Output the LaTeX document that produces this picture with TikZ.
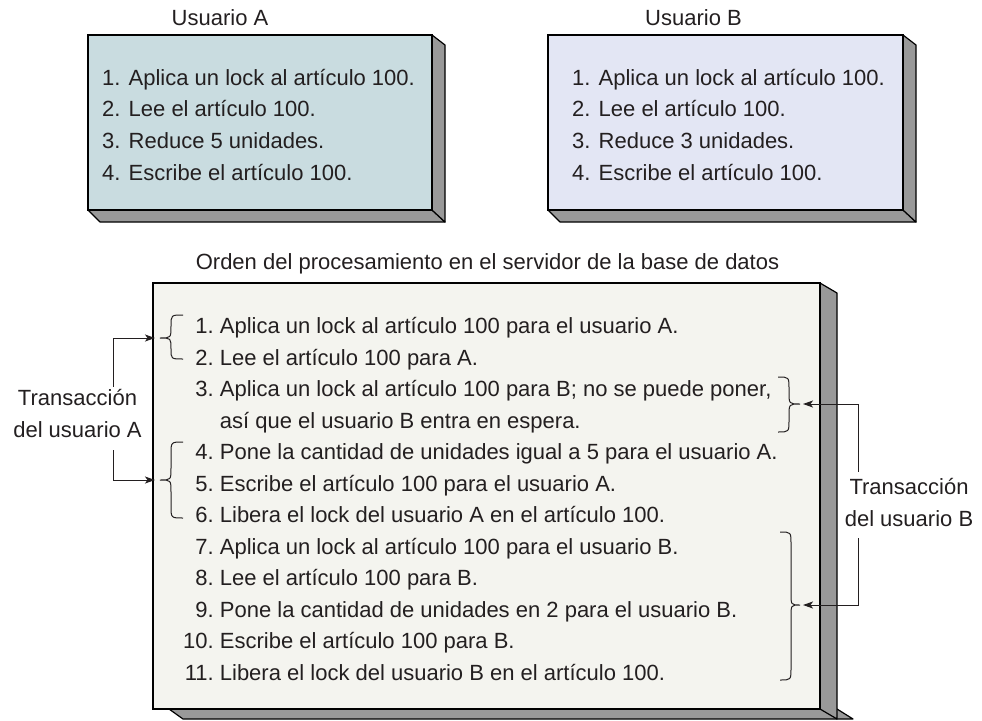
\documentclass[tikz,border=0pt]{standalone}
\usepackage{fontspec}
\setmainfont{Liberation Sans}
\usetikzlibrary{arrows.meta,calc}
\definecolor{fillA}{HTML}{C9DCE0}
\definecolor{fillB}{HTML}{E3E6F4}
\definecolor{fillM}{HTML}{F4F4EF}
\definecolor{shade}{HTML}{999999}
\definecolor{ink}{HTML}{231F20}
\newcommand{\nb}[1]{\makebox[30.6pt][r]{#1}}
\begin{document}
\begin{tikzpicture}[x=1pt,y=-1pt,
 face/.style={draw=black,line width=1.3pt,inner sep=0pt,outer sep=0pt,anchor=north west},
 side/.style={fill=shade,draw=black,line width=1.2pt,line join=round},
 txt/.style={font=\fontsize{22}{31.5}\selectfont,text=ink,inner sep=0pt,anchor=base west},
 ttl/.style={font=\fontsize{22}{26}\selectfont,text=ink,inner sep=0pt,anchor=base},
 lbl/.style={font=\fontsize{22}{31.5}\selectfont,text=ink,align=center,inner sep=0pt},
 brc/.style={draw=ink,line width=1pt},
 arr/.style={draw=ink,line width=1pt,-{Stealth[length=10pt,width=7pt,inset=2.5pt]}}
]
\useasboundingbox (0,0) rectangle (982,720);

% ---- Box A ----
\node[ttl] (titA) at (220,25) {Usuario A};
\filldraw[side] (88,210) -- (100,222) -- (445,222) -- (432,210) -- cycle;
\filldraw[side] (432,35) -- (445,45) -- (445,222) -- (432,210) -- cycle;
\node[face,fill=fillA,minimum width=344pt,minimum height=175pt] (boxA) at (88,35) {};
\node[txt] (a1) at (102,85) {1. Aplica un lock al artículo 100.};
\node[txt] (a2) at (102,116.7) {2. Lee el artículo 100.};
\node[txt] (a3) at (102,148.4) {3. Reduce 5 unidades.};
\node[txt] (a4) at (102,180) {4. Escribe el artículo 100.};

% ---- Box B ----
\node[ttl] (titB) at (693.5,25) {Usuario B};
\filldraw[side] (548,210) -- (560,222) -- (916,222) -- (903,210) -- cycle;
\filldraw[side] (903,35) -- (916,45) -- (916,222) -- (903,210) -- cycle;
\node[face,fill=fillB,minimum width=355pt,minimum height=175pt] (boxB) at (548,35) {};
\node[txt] (b1) at (572,85) {1. Aplica un lock al artículo 100.};
\node[txt] (b2) at (572,116.7) {2. Lee el artículo 100.};
\node[txt] (b3) at (572,148.4) {3. Reduce 3 unidades.};
\node[txt] (b4) at (572,180) {4. Escribe el artículo 100.};

% ---- Main box ----
\node[ttl] (titM) at (487.5,269) {Orden del procesamiento en el servidor de la base de datos};
\filldraw[side] (169,709) -- (183,719) -- (853,719) -- (837,709) -- cycle;
\filldraw[side] (820,283) -- (837,293) -- (837,719) -- (820,709) -- cycle;
\node[face,fill=fillM,minimum width=667pt,minimum height=426pt] (boxM) at (153,283) {};
\node[txt] (m1) at (183,333) {\nb{1.} Aplica un lock al artículo 100 para el usuario A.};
\node[txt] (m2) at (183,365) {\nb{2.} Lee el artículo 100 para A.};
\node[txt] (m3) at (183,396) {\nb{3.} Aplica un lock al artículo 100 para B; no se puede poner,};
\node[txt] (m3b) at (219.7,428) {así que el usuario B entra en espera.};
\node[txt] (m4) at (183,459) {\nb{4.} Pone la cantidad de unidades igual a 5 para el usuario A.};
\node[txt] (m5) at (183,491) {\nb{5.} Escribe el artículo 100 para el usuario A.};
\node[txt] (m6) at (183,522) {\nb{6.} Libera el lock del usuario A en el artículo 100.};
\node[txt] (m7) at (183,554) {\nb{7.} Aplica un lock al artículo 100 para el usuario B.};
\node[txt] (m8) at (183,585) {\nb{8.} Lee el artículo 100 para B.};
\node[txt] (m9) at (183,617) {\nb{9.} Pone la cantidad de unidades en 2 para el usuario B.};
\node[txt] (m10) at (183,648) {\nb{10.} Escribe el artículo 100 para B.};
\node[txt] (m11) at (183,680) {\nb{11.} Libera el lock del usuario B en el artículo 100.};

% ---- Braces ----
\draw[brc] (183,315) .. controls (171,315) .. (171,326) .. controls (171,338) .. (160,338)
  .. controls (171,338) .. (171,349) .. controls (171,359) .. (183,359);
\draw[brc] (183,442) .. controls (171,442) .. (171,454) -- (171,468) .. controls (171,480) .. (160,480)
  .. controls (171,480) .. (171,492) -- (171,506) .. controls (171,518) .. (183,518);
\draw[brc] (778,377) .. controls (789,377) .. (789,389) -- (789,392) .. controls (789,404) .. (800,404)
  .. controls (789,404) .. (789,416) -- (789,420) .. controls (789,432) .. (778,432);
\draw[brc] (780,532) .. controls (791,532) .. (791,544) -- (791,593) .. controls (791,605) .. (800,605)
  .. controls (791,605) .. (791,617) -- (791,668) .. controls (791,680) .. (780,680);

% ---- Labels and arrows ----
\node[lbl] (transA) at (77.5,413.75) {Transacción\\del usuario A};
\node[lbl] (transB) at (909,502.75) {Transacción\\del usuario B};
\coordinate (tipA1) at (155,338);
\coordinate (tipA2) at (155,480);
\coordinate (tipB1) at (803,404);
\coordinate (tipB2) at (803,605);
\coordinate (colA) at (113,0);
\coordinate (colB) at (858,0);
\draw[arr] ($(transA.north -| colA)+(0,-3)$) |- (tipA1);
\draw[arr] ($(transA.south -| colA)+(0,12.5)$) |- (tipA2);
\draw[arr] ($(transB.north -| colB)+(0,-7)$) |- (tipB1);
\draw[arr] ($(transB.south -| colB)+(0,11.5)$) |- (tipB2);
\end{tikzpicture}
\end{document}
